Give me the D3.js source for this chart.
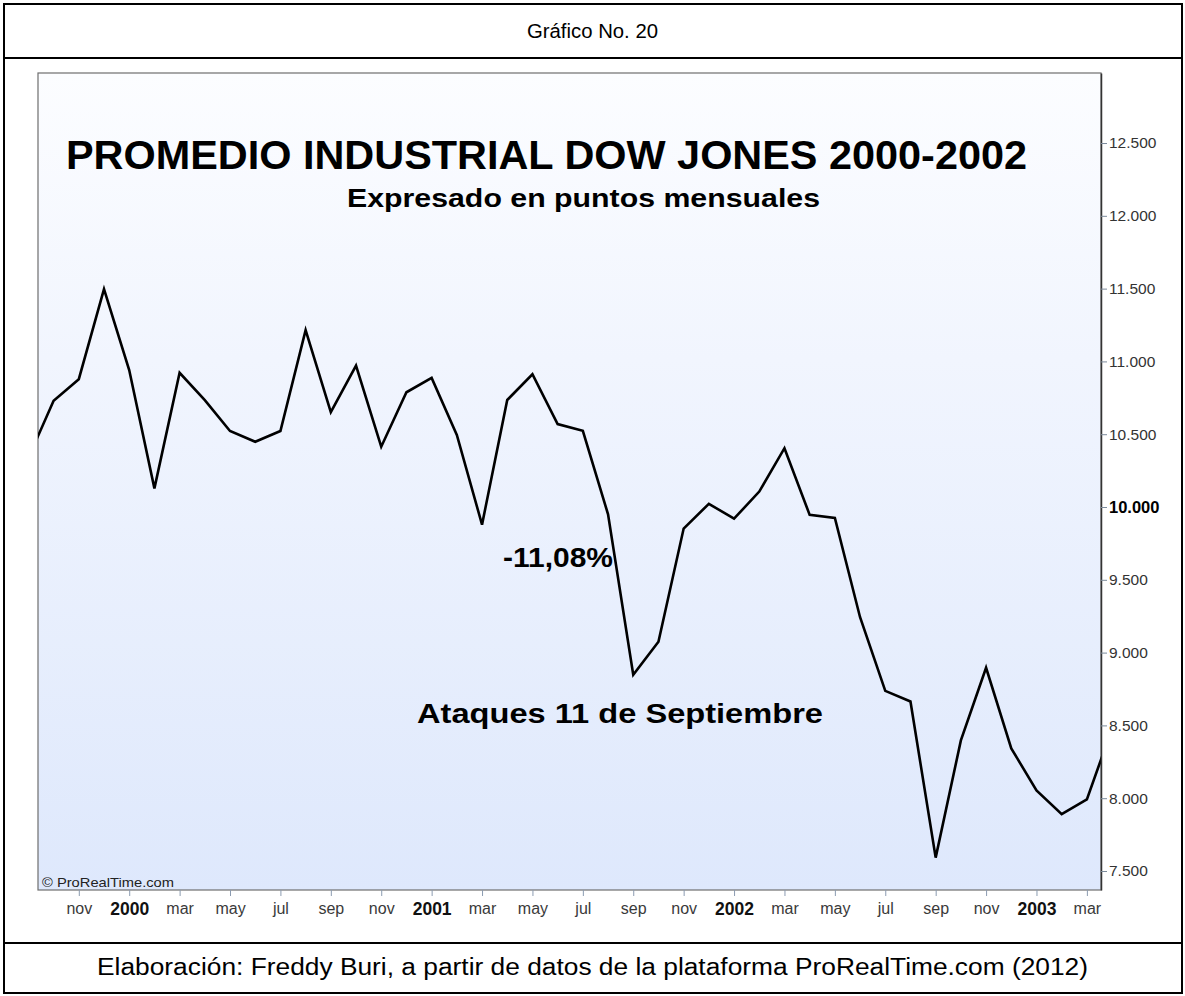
<!DOCTYPE html>
<html>
<head>
<meta charset="utf-8">
<script src="https://cdn.jsdelivr.net/npm/d3@7"></script>
<style>
  html,body{margin:0;padding:0;background:#fff;}
  svg{display:block;font-family:"Liberation Sans",Arial,sans-serif;}
</style>
</head>
<body>
<svg id="chart" width="1185" height="996"></svg>
<script>
// ---- DATA ----
// monthly closes, Sep 1999 .. Apr 2003 (index 0 = Sep 1999)
const months = ["1999-09","1999-10","1999-11","1999-12",
  "2000-01","2000-02","2000-03","2000-04","2000-05","2000-06","2000-07","2000-08","2000-09","2000-10","2000-11","2000-12",
  "2001-01","2001-02","2001-03","2001-04","2001-05","2001-06","2001-07","2001-08","2001-09","2001-10","2001-11","2001-12",
  "2002-01","2002-02","2002-03","2002-04","2002-05","2002-06","2002-07","2002-08","2002-09","2002-10","2002-11","2002-12",
  "2003-01","2003-02","2003-03","2003-04"];
const closes = [10337,10730,10878,11497,
  10941,10128,10922,10734,10522,10448,10522,11215,10651,10971,10414,10788,
  10887,10495,9879,10735,10912,10570,10523,9950,8848,9075,9852,10022,
  9920,10106,10404,9946,9925,9243,8737,8664,7592,8397,8896,8342,
  8054,7891,7992,8480];
const xTickMonths = ["1999-11","2000-01","2000-03","2000-05","2000-07","2000-09","2000-11",
  "2001-01","2001-03","2001-05","2001-07","2001-09","2001-11",
  "2002-01","2002-03","2002-05","2002-07","2002-09","2002-11","2003-01","2003-03"];
const xTickLabels = ["nov","2000","mar","may","jul","sep","nov","2001","mar","may","jul","sep","nov",
  "2002","mar","may","jul","sep","nov","2003","mar"];
const yTicks = [7500,8000,8500,9000,9500,10000,10500,11000,11500,12000,12500];
const headerText = "Gráfico No. 20";
const titleText = "PROMEDIO INDUSTRIAL DOW JONES 2000-2002";
const subtitleText = "Expresado en puntos mensuales";
const annoDrop = "-11,08%";
const annoAttack = "Ataques 11 de Septiembre";
const copyrightText = "© ProRealTime.com";
const footerText = "Elaboración: Freddy Buri, a partir de datos de la plataforma ProRealTime.com (2012)";

// ---- LAYOUT ----
const svg = d3.select("#chart");
const P = {left:38, top:73, right:1101, bottom:890};

const x = d3.scaleLinear().domain([0.381, 42.56]).range([P.left, P.right]);
const y = d3.scaleLinear().domain([7369.5, 12981]).range([P.bottom, P.top]);
const idx = m => months.indexOf(m);
const isYear = i => /^\d+$/.test(xTickLabels[i]);

// outer table frame
svg.append("rect").attr("x",4).attr("y",4).attr("width",1178).attr("height",989)
  .attr("fill","#fff").attr("stroke","#000").attr("stroke-width",2);
svg.append("line").attr("x1",4).attr("x2",1182).attr("y1",58).attr("y2",58).attr("stroke","#000").attr("stroke-width",2);
svg.append("line").attr("x1",4).attr("x2",1182).attr("y1",943).attr("y2",943).attr("stroke","#000").attr("stroke-width",2);

svg.append("text").attr("x",592.5).attr("y",38).attr("text-anchor","middle")
  .attr("font-size",20).attr("textLength",131).attr("lengthAdjust","spacingAndGlyphs")
  .attr("fill","#000").text(headerText);
svg.append("text").attr("x",592.5).attr("y",975).attr("text-anchor","middle")
  .attr("font-size",23).attr("textLength",991).attr("lengthAdjust","spacingAndGlyphs")
  .attr("fill","#000").text(footerText);

// panel background gradient
const defs = svg.append("defs");
const g = defs.append("linearGradient").attr("id","bg").attr("x1",0).attr("x2",0).attr("y1",0).attr("y2",1);
g.append("stop").attr("offset","0%").attr("stop-color","#fcfdff");
g.append("stop").attr("offset","35%").attr("stop-color","#f1f5fe");
g.append("stop").attr("offset","100%").attr("stop-color","#dee8fc");
defs.append("clipPath").attr("id","clip").append("rect")
  .attr("x",P.left).attr("y",P.top).attr("width",P.right-P.left).attr("height",P.bottom-P.top);

svg.append("rect").attr("x",P.left).attr("y",P.top).attr("width",P.right-P.left).attr("height",P.bottom-P.top)
  .attr("fill","url(#bg)").attr("stroke","#6e6e6e").attr("stroke-width",1.2);

// titles inside panel
svg.append("text").attr("x",66).attr("y",169).attr("font-size",40).attr("font-weight","bold")
  .attr("textLength",961).attr("lengthAdjust","spacingAndGlyphs").attr("fill","#000").text(titleText);
svg.append("text").attr("x",347).attr("y",207).attr("font-size",26).attr("font-weight","bold")
  .attr("textLength",473).attr("lengthAdjust","spacingAndGlyphs").attr("fill","#000").text(subtitleText);

// line
const line = d3.line().x((d,i)=>x(i)).y(d=>y(d)).curve(d3.curveLinear);
svg.append("path").datum(closes).attr("clip-path","url(#clip)")
  .attr("d",line).attr("fill","none").attr("stroke","#000").attr("stroke-width",2.6)
  .attr("stroke-linejoin","miter");

// annotations
svg.append("text").attr("x",503).attr("y",567).attr("font-size",27).attr("font-weight","bold")
  .attr("textLength",110).attr("lengthAdjust","spacingAndGlyphs").attr("fill","#000").text(annoDrop);
svg.append("text").attr("x",417).attr("y",723).attr("font-size",27).attr("font-weight","bold")
  .attr("textLength",406).attr("lengthAdjust","spacingAndGlyphs").attr("fill","#000").text(annoAttack);
svg.append("text").attr("x",42).attr("y",887).attr("font-size",13.5)
  .attr("textLength",132).attr("lengthAdjust","spacingAndGlyphs").attr("fill","#222").text(copyrightText);

// right axis
const yAxis = d3.axisRight(y).tickValues(yTicks).tickSize(6).tickSizeOuter(0).tickPadding(2)
  .tickFormat(d => d3.format(",")(d).replace(/,/g,"."));
const ya = svg.append("g").attr("transform",`translate(${P.right},0)`).call(yAxis);
ya.select(".domain").attr("stroke","#333").attr("stroke-width",1.5);
ya.selectAll(".tick line").attr("stroke","#7b8a9a");
ya.selectAll(".tick text")
  .attr("font-family","'Liberation Sans',Arial,sans-serif")
  .attr("font-weight",d=>d===10000?"bold":"normal")
  .attr("fill",d=>d===10000?"#000":"#333")
  .attr("font-size",d=>d===10000?16.5:15.5);

// bottom axis
const xAxis = d3.axisBottom(x).tickValues(xTickMonths.map(idx)).tickSize(6).tickSizeOuter(0).tickPadding(7)
  .tickFormat((d,i)=>xTickLabels[i]);
const xa = svg.append("g").attr("transform",`translate(0,${P.bottom})`).call(xAxis);
xa.select(".domain").remove();
xa.selectAll(".tick line").attr("stroke","#8b9bb0");
xa.selectAll(".tick text")
  .attr("font-family","'Liberation Sans',Arial,sans-serif")
  .attr("font-weight",(d,i)=>isYear(i)?"bold":"normal")
  .attr("font-size",(d,i)=>isYear(i)?17.5:16)
  .attr("fill",(d,i)=>isYear(i)?"#111":"#3a3a3a");
</script>
</body>
</html>
